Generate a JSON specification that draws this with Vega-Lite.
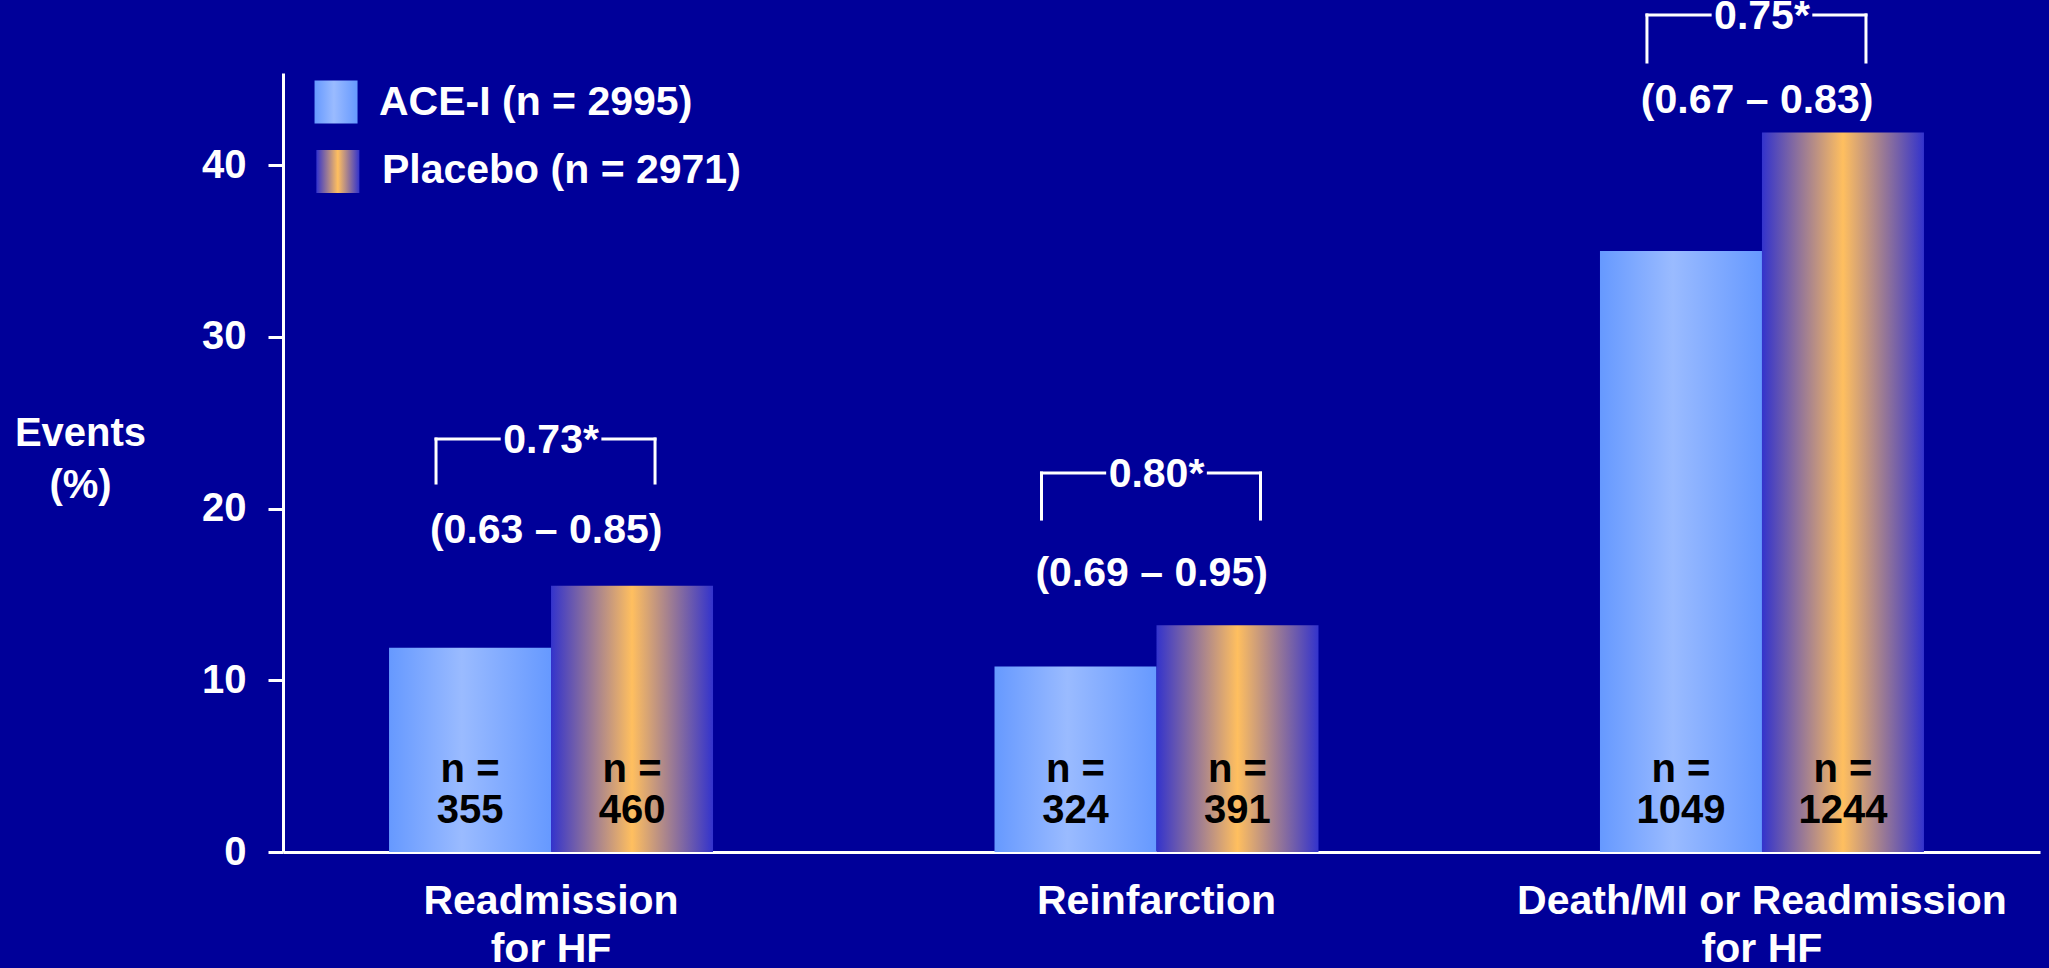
{
  "$schema": "https://vega.github.io/schema/vega-lite/v6.json",
  "autosize": "none",
  "width": 1757,
  "height": 779,
  "padding": {"left": 283, "top": 73, "right": 9, "bottom": 116},
  "background": "#000099",
  "config": {"view": {"stroke": null}, "font": "Liberation Sans"},
  "datasets": {
    "events": [
      {"outcome": "Readmission for HF", "series": "ACE-I (n = 2995)", "pct": 11.9, "n": 355},
      {"outcome": "Readmission for HF", "series": "Placebo (n = 2971)", "pct": 15.5, "n": 460},
      {"outcome": "Reinfarction", "series": "ACE-I (n = 2995)", "pct": 10.8, "n": 324},
      {"outcome": "Reinfarction", "series": "Placebo (n = 2971)", "pct": 13.2, "n": 391},
      {"outcome": "Death/MI or Readmission for HF", "series": "ACE-I (n = 2995)", "pct": 35.0, "n": 1049},
      {"outcome": "Death/MI or Readmission for HF", "series": "Placebo (n = 2971)", "pct": 41.9, "n": 1244}
    ],
    "ratios": [
      {"outcome": "Readmission for HF", "hr": "0.73*", "ci": "(0.63 – 0.85)", "top": 24.05, "leg": 21.49, "ci_y": 18.7},
      {"outcome": "Reinfarction", "hr": "0.80*", "ci": "(0.69 – 0.95)", "top": 22.07, "leg": 19.39, "ci_y": 16.2},
      {"outcome": "Death/MI or Readmission for HF", "hr": "0.75*", "ci": "(0.67 – 0.83)", "top": 48.75, "leg": 46.01, "ci_y": 43.75}
    ],
    "ace": [{"series": "ACE-I (n = 2995)"}],
    "placebo": [{"series": "Placebo (n = 2971)"}]
  },
  "layer": [
    {
      "data": {"name": "events"},
      "mark": {"type": "bar", "strokeWidth": 0},
      "encoding": {
        "x": {
          "field": "outcome", "type": "nominal",
          "sort": ["Readmission for HF", "Reinfarction", "Death/MI or Readmission for HF"],
          "scale": {"paddingInner": 0.4649, "paddingOuter": 0.1834, "align": 0.4775},
          "axis": {
            "title": null, "labelAngle": 0, "labelFontSize": 41, "labelFontWeight": "bold",
            "labelColor": "#ffffff", "labelLineHeight": 48, "labelPadding": 29, "ticks": false,
            "domainColor": "#ffffff", "domainWidth": 3, "labelFont": "Liberation Sans", "labelLimit": 700,
            "labelExpr": "datum.value == 'Readmission for HF' ? ['Readmission', 'for HF'] : datum.value == 'Death/MI or Readmission for HF' ? ['Death/MI or Readmission', 'for HF'] : datum.label"
          }
        },
        "xOffset": {"field": "series", "type": "nominal", "scale": {"paddingInner": 0, "paddingOuter": 0}},
        "y": {
          "field": "pct", "type": "quantitative",
          "scale": {"domain": [0, 45.37], "nice": false, "zero": true},
          "axis": {
            "values": [0, 10, 20, 30, 40], "grid": false,
            "domainColor": "#ffffff", "domainWidth": 3,
            "tickColor": "#ffffff", "tickWidth": 3, "tickSize": 15,
            "labelFontSize": 40, "labelFontWeight": "bold", "labelColor": "#ffffff", "labelPadding": 22,
            "labelFont": "Liberation Sans",
            "title": ["Events", "(%)"], "titleAngle": 0, "titleX": -203, "titleY": 372,
            "titleAlign": "center", "titleBaseline": "alphabetic", "titleFontSize": 40,
            "titleFontWeight": "bold", "titleColor": "#ffffff", "titleLineHeight": 52, "titleFont": "Liberation Sans"
          }
        },
        "color": {
          "field": "series", "type": "nominal",
          "condition": [
            {"test": "datum.series === 'ACE-I (n = 2995)'",
             "value": {"gradient": "linear", "x1": 0, "y1": 0, "x2": 1, "y2": 0,
               "stops": [{"offset": 0, "color": "#6699ff"}, {"offset": 0.45, "color": "#9abbff"}, {"offset": 1, "color": "#6699ff"}]}},
            {"test": "datum.series === 'Placebo (n = 2971)'",
             "value": {"gradient": "linear", "x1": 0, "y1": 0, "x2": 1, "y2": 0,
               "stops": [{"offset": 0, "color": "#3333cc"}, {"offset": 0.5, "color": "#ffbf5f"}, {"offset": 1, "color": "#3333cc"}]}}
          ],
          "scale": {"domain": ["ACE-I (n = 2995)", "Placebo (n = 2971)"], "range": ["#88aaff", "#ffbf5f"]},
          "legend": null
        }
      }
    },
    {
      "data": {"name": "ace"},
      "mark": {"type": "square", "size": 1849, "filled": true, "opacity": 1, "strokeWidth": 0,
        "color": {"gradient": "linear", "x1": 0, "y1": 0, "x2": 1, "y2": 0,
          "stops": [{"offset": 0, "color": "#6699ff"}, {"offset": 0.45, "color": "#9abbff"}, {"offset": 1, "color": "#6699ff"}]}},
      "encoding": {
        "x": {"datum": "Readmission for HF", "type": "nominal", "bandPosition": -0.1636},
        "y": {"datum": 43.68, "type": "quantitative"}
      }
    },
    {
      "data": {"name": "placebo"},
      "mark": {"type": "square", "size": 1849, "filled": true, "opacity": 1, "strokeWidth": 0,
        "color": {"gradient": "linear", "x1": 0, "y1": 0, "x2": 1, "y2": 0,
          "stops": [{"offset": 0, "color": "#3333cc"}, {"offset": 0.5, "color": "#ffbf5f"}, {"offset": 1, "color": "#3333cc"}]}},
      "encoding": {
        "x": {"datum": "Readmission for HF", "type": "nominal", "bandPosition": -0.158},
        "y": {"datum": 39.63, "type": "quantitative"}
      }
    },
    {
      "data": {"name": "ace"},
      "mark": {"type": "text", "fontSize": 41, "fontWeight": "bold", "color": "#ffffff", "align": "left", "baseline": "alphabetic", "font": "Liberation Sans"},
      "encoding": {
        "x": {"datum": "Readmission for HF", "type": "nominal", "bandPosition": -0.031},
        "y": {"datum": 42.92, "type": "quantitative"},
        "text": {"field": "series", "type": "nominal"}
      }
    },
    {
      "data": {"name": "placebo"},
      "mark": {"type": "text", "fontSize": 41, "fontWeight": "bold", "color": "#ffffff", "align": "left", "baseline": "alphabetic", "font": "Liberation Sans"},
      "encoding": {
        "x": {"datum": "Readmission for HF", "type": "nominal", "bandPosition": -0.022},
        "y": {"datum": 38.96, "type": "quantitative"},
        "text": {"field": "series", "type": "nominal"}
      }
    },
    {
      "data": {"name": "events"},
      "mark": {"type": "text", "fontSize": 40, "fontWeight": "bold", "color": "#000000", "baseline": "alphabetic", "text": "n =", "font": "Liberation Sans"},
      "encoding": {
        "x": {"field": "outcome", "type": "nominal", "sort": ["Readmission for HF", "Reinfarction", "Death/MI or Readmission for HF"]},
        "xOffset": {"field": "series", "type": "nominal"},
        "y": {"datum": 4.05}
      }
    },
    {
      "data": {"name": "events"},
      "mark": {"type": "text", "fontSize": 40, "fontWeight": "bold", "color": "#000000", "baseline": "alphabetic", "font": "Liberation Sans"},
      "encoding": {
        "x": {"field": "outcome", "type": "nominal", "sort": ["Readmission for HF", "Reinfarction", "Death/MI or Readmission for HF"]},
        "xOffset": {"field": "series", "type": "nominal"},
        "y": {"datum": 1.7},
        "text": {"field": "n", "type": "nominal"}
      }
    },
    {
      "data": {"name": "ratios"},
      "mark": {"type": "rule", "color": "#ffffff", "strokeWidth": 3, "strokeCap": "square"},
      "encoding": {
        "x": {"field": "outcome", "type": "nominal", "bandPosition": 0.145, "sort": ["Readmission for HF", "Reinfarction", "Death/MI or Readmission for HF"]},
        "x2": {"field": "outcome", "bandPosition": 0.34},
        "y": {"field": "top", "type": "quantitative"}
      }
    },
    {
      "data": {"name": "ratios"},
      "mark": {"type": "rule", "color": "#ffffff", "strokeWidth": 3, "strokeCap": "square"},
      "encoding": {
        "x": {"field": "outcome", "type": "nominal", "bandPosition": 0.66, "sort": ["Readmission for HF", "Reinfarction", "Death/MI or Readmission for HF"]},
        "x2": {"field": "outcome", "bandPosition": 0.821},
        "y": {"field": "top", "type": "quantitative"}
      }
    },
    {
      "data": {"name": "ratios"},
      "mark": {"type": "rule", "color": "#ffffff", "strokeWidth": 3, "strokeCap": "square"},
      "encoding": {
        "x": {"field": "outcome", "type": "nominal", "bandPosition": 0.145, "sort": ["Readmission for HF", "Reinfarction", "Death/MI or Readmission for HF"]},
        "y": {"field": "top", "type": "quantitative"},
        "y2": {"field": "leg"}
      }
    },
    {
      "data": {"name": "ratios"},
      "mark": {"type": "rule", "color": "#ffffff", "strokeWidth": 3, "strokeCap": "square"},
      "encoding": {
        "x": {"field": "outcome", "type": "nominal", "bandPosition": 0.821, "sort": ["Readmission for HF", "Reinfarction", "Death/MI or Readmission for HF"]},
        "y": {"field": "top", "type": "quantitative"},
        "y2": {"field": "leg"}
      }
    },
    {
      "data": {"name": "ratios"},
      "mark": {"type": "text", "fontSize": 41, "fontWeight": "bold", "color": "#ffffff", "baseline": "middle", "dy": 2, "font": "Liberation Sans"},
      "encoding": {
        "x": {"field": "outcome", "type": "nominal", "sort": ["Readmission for HF", "Reinfarction", "Death/MI or Readmission for HF"]},
        "y": {"field": "top", "type": "quantitative"},
        "text": {"field": "hr", "type": "nominal"}
      }
    },
    {
      "data": {"name": "ratios"},
      "mark": {"type": "text", "fontSize": 41, "fontWeight": "bold", "color": "#ffffff", "baseline": "middle", "font": "Liberation Sans"},
      "encoding": {
        "x": {"field": "outcome", "type": "nominal", "bandPosition": 0.485, "sort": ["Readmission for HF", "Reinfarction", "Death/MI or Readmission for HF"]},
        "y": {"field": "ci_y", "type": "quantitative"},
        "text": {"field": "ci", "type": "nominal"}
      }
    }
  ]
}
